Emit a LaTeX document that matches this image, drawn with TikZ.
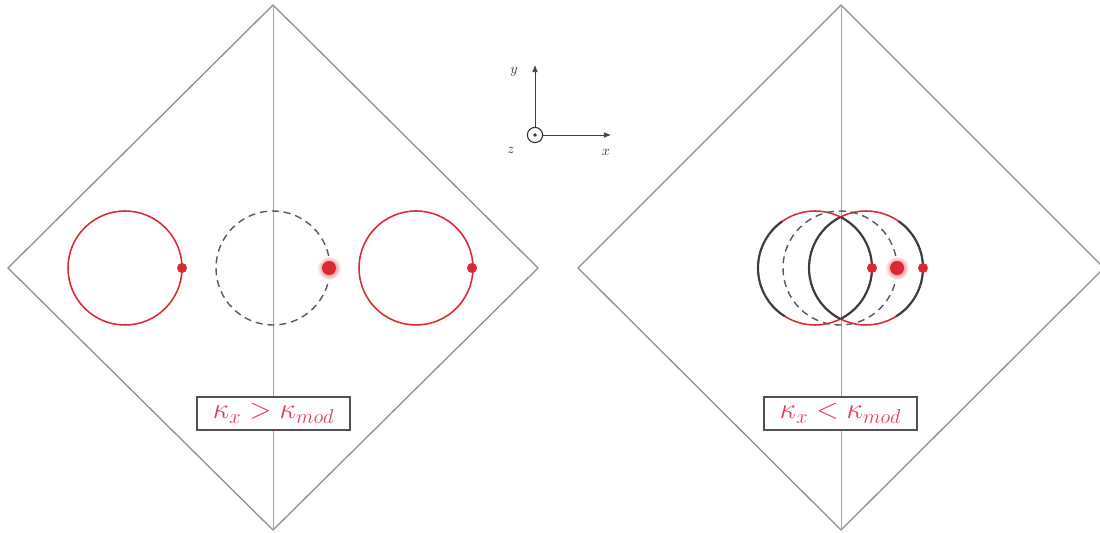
\documentclass[tikz,border=0pt]{standalone}
\usetikzlibrary{arrows.meta}
\definecolor{frame}{RGB}{140,140,140}
\definecolor{axisgray}{RGB}{165,165,165}
\definecolor{ringred}{RGB}{220,40,50}
\definecolor{labelred}{RGB}{225,60,90}
\definecolor{darkring}{RGB}{60,60,60}
\tikzset{
  diamondline/.style={draw=frame, line width=0.9pt},
  midline/.style={draw=axisgray, line width=0.7pt},
  redring/.style={draw=ringred, line width=1.1pt},
  darkarc/.style={draw=darkring, line width=1.5pt},
  dashring/.style={draw=darkring!85, line width=1pt, dash pattern=on 5pt off 3.5pt},
  smalldot/.style={fill=ringred, draw=none},
  labelbox/.style={draw=darkring!90, fill=white, line width=0.9pt, minimum width=3.825cm, minimum height=0.825cm, inner sep=0pt, text=labelred, font=\fontsize{22}{25}\selectfont},
  axarrow/.style={-{Latex[length=5pt,width=4pt]}, line width=0.5pt, draw=black!75},
  axlabel/.style={font=\normalsize, text=black!80}
}
\begin{document}
\begin{tikzpicture}[x=0.025cm,y=0.025cm]
\useasboundingbox (0,0) rectangle (1100,533);
\begin{scope}
\clip (0,0) rectangle (1100,533);
% left diamond
\draw[diamondline] (273,528) -- (538,265) -- (273,3) -- (8,265) -- cycle;
\draw[midline] (273,528) -- (273,3);
% right diamond
\draw[diamondline] (841,528) -- (1104,265) -- (841,3) -- (578,265) -- cycle;
\draw[midline] (841,528) -- (841,3);
\end{scope}

% ---- left panel circles
\draw[redring] (125,265) circle[radius=57];
\fill[smalldot] (182,265) circle[radius=5];
\draw[dashring] (273,265) circle[radius=57];
\shade[inner color=ringred, outer color=white] (329,265) circle[radius=12];
\fill[ringred] (329,265) circle[radius=7];
\draw[redring] (416,265) circle[radius=57];
\fill[smalldot] (472,265) circle[radius=5];

% ---- right panel circles
\draw[redring] (815,265) circle[radius=57];
\draw[redring] (866,265) circle[radius=57];
\draw[dashring] (840,265) circle[radius=57];
\draw[darkarc] (815,265) ++(125:57) arc[start angle=125, end angle=238, radius=57];
\draw[darkarc] (815,265) ++(-63:57) arc[start angle=-63, end angle=63, radius=57];
\draw[darkarc] (866,265) ++(117:57) arc[start angle=117, end angle=243, radius=57];
\draw[darkarc] (866,265) ++(-58:57) arc[start angle=-58, end angle=55, radius=57];
\fill[smalldot] (872,265) circle[radius=5];
\shade[inner color=ringred, outer color=white] (897,265) circle[radius=12];
\fill[ringred] (897,265) circle[radius=7];
\fill[smalldot] (923,265) circle[radius=5];

% ---- axes
\node[draw=black!80, circle, line width=0.8pt, minimum size=0.38cm, inner sep=0pt] (o) at (535,398) {};
\fill[black!80] (o.center) circle[radius=1.8];
\coordinate (ytip) at (535,468);
\coordinate (xtip) at (611,398);
\draw[axarrow] (o.north) -- (ytip);
\draw[axarrow] (o.east) -- (xtip);
\node[axlabel] (ylab) at (514,461) {$y$};
\node[axlabel] (zlab) at (511,383) {$z$};
\node[axlabel] (xlab) at (606,381) {$x$};

% ---- labels
\node[labelbox] (leftlab) at (273.5,119.5) {$\kappa_x > \kappa_{mod}$};
\node[labelbox] (rightlab) at (840.5,119.5) {$\kappa_x < \kappa_{mod}$};
\end{tikzpicture}
\end{document}
